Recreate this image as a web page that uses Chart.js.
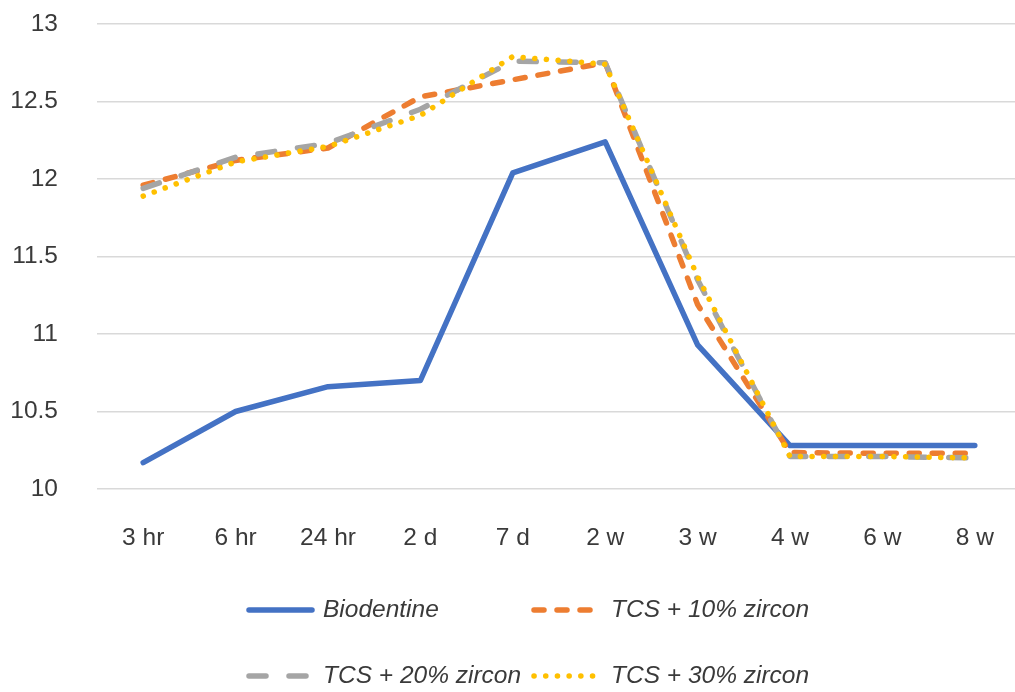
<!DOCTYPE html>
<html>
<head>
<meta charset="utf-8">
<script src="https://cdn.jsdelivr.net/npm/chart.js@4"></script>
<style>
  html, body { margin: 0; padding: 0; background: #fff; overflow: hidden; }
  #wrap { position: relative; width: 1030px; height: 692px; }
</style>
</head>
<body>
<div id="wrap"><canvas id="c" width="1030" height="692"></canvas></div>
<script>
// Sampling times
const categories = ['3 hr', '6 hr', '24 hr', '2 d', '7 d', '2 w', '3 w', '4 w', '6 w', '8 w'];

// pH readings per material
const biodentine = [10.17, 10.50, 10.66, 10.70, 12.04, 12.24, 10.93, 10.28, 10.28, 10.28];
const tcs10 = [11.96, 12.12, 12.20, 12.53, 12.64, 12.75, 11.19, 10.235, 10.23, 10.23];
const tcs20 = [11.94, 12.14, 12.23, 12.45, 12.76, 12.75, 11.35, 10.21, 10.21, 10.20];
const tcs30 = [11.89, 12.11, 12.21, 12.41, 12.79, 12.74, 11.37, 10.21, 10.21, 10.20];

const seriesNames = ['Biodentine', 'TCS + 10% zircon', 'TCS + 20% zircon', 'TCS + 30% zircon'];

// Axis range
const yMin = 10, yMax = 13, yStep = 0.5;

const FONT = '"Liberation Sans", Arial, sans-serif';
const FONT_SIZE = 24.5;
const TEXT = '#3a3a3a';

const styles = [
  { color: '#4472C4', dash: [], width: 5.5 },
  { color: '#ED7D31', dash: [10, 13], width: 5.5 },
  { color: '#A5A5A5', dash: [17, 23], width: 5.5 },
  { color: '#FFC000', dash: [0.1, 11.6], width: 5.5 }
];

// Custom two-column legend beneath the plot
const legendPlugin = {
  id: 'twoColLegend',
  afterDraw(chart) {
    const ctx = chart.ctx;
    const items = [
      { x: 246, y: 610, w: 69, tx: 323 },
      { x: 531, y: 610, w: 66, tx: 611 },
      { x: 246, y: 676, w: 69, tx: 323 },
      { x: 531, y: 676, w: 66, tx: 611 }
    ];
    items.forEach((it, i) => {
      const s = styles[i];
      ctx.save();
      ctx.strokeStyle = s.color;
      ctx.lineWidth = s.width;
      ctx.lineCap = 'round';
      ctx.setLineDash(s.dash);
      ctx.beginPath();
      ctx.moveTo(it.x + 3, it.y);
      ctx.lineTo(it.x + it.w - 3, it.y);
      ctx.stroke();
      ctx.setLineDash([]);
      ctx.fillStyle = TEXT;
      ctx.font = 'italic ' + FONT_SIZE + 'px ' + FONT;
      ctx.textBaseline = 'middle';
      ctx.textAlign = 'left';
      ctx.fillText(seriesNames[i], it.tx, it.y);
      ctx.restore();
    });
  }
};

const datasetsData = [biodentine, tcs10, tcs20, tcs30];

new Chart(document.getElementById('c'), {
  type: 'line',
  data: {
    labels: categories,
    datasets: datasetsData.map((d, i) => ({
      label: seriesNames[i],
      data: d,
      borderColor: styles[i].color,
      backgroundColor: styles[i].color,
      borderWidth: styles[i].width,
      borderDash: styles[i].dash,
      borderCapStyle: 'round',
      borderJoinStyle: 'round',
      pointRadius: 0,
      tension: 0,
      fill: false,
      order: 4 - i
    }))
  },
  options: {
    responsive: false,
    devicePixelRatio: 1,
    animation: false,
    layout: { padding: { left: 0, right: 9, top: 24, bottom: 0 } },
    plugins: {
      legend: { display: false },
      tooltip: { enabled: false }
    },
    scales: {
      x: {
        offset: true,
        // invisible tick marks keep the labels away from the plot
        grid: { display: true, color: 'rgba(0,0,0,0)', drawOnChartArea: false, drawTicks: true, tickLength: 35, tickColor: 'rgba(0,0,0,0)' },
        border: { display: false },
        ticks: {
          color: TEXT,
          font: { family: FONT, size: FONT_SIZE },
          padding: 0,
          maxRotation: 0
        },
        afterFit(scale) { scale.height = 203; }
      },
      y: {
        min: yMin,
        max: yMax,
        grid: { color: '#d9d9d9', lineWidth: 1.5, drawTicks: true, tickLength: 39, tickColor: 'rgba(0,0,0,0)' },
        border: { display: false },
        ticks: {
          stepSize: yStep,
          color: TEXT,
          font: { family: FONT, size: FONT_SIZE },
          padding: 0,
          callback: v => String(v)
        },
        afterFit(scale) { scale.width = 97; }
      }
    }
  },
  plugins: [legendPlugin]
});
</script>
</body>
</html>
